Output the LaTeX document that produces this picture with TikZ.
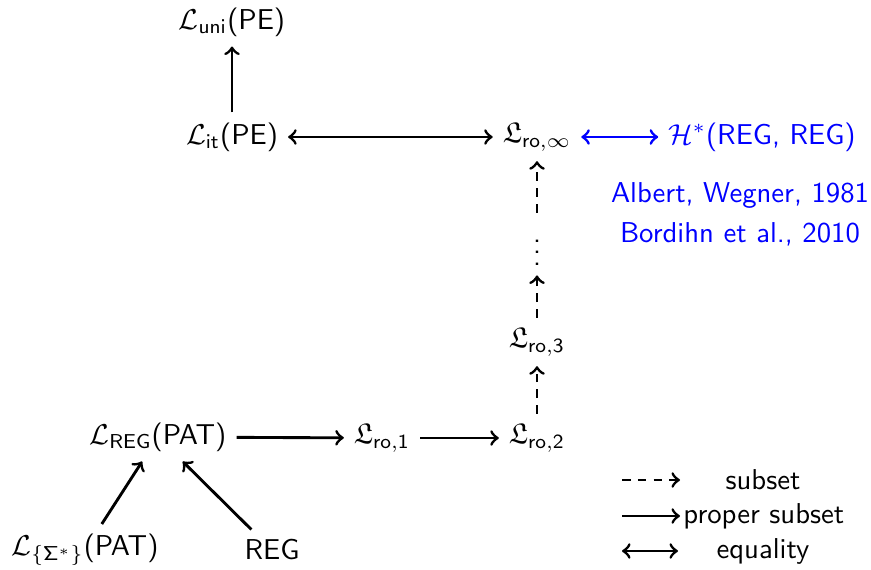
\documentclass[tikz,border=0pt]{standalone}
\usepackage{amssymb}

\begin{document}
\begin{tikzpicture}[x=0.01223cm,y=-0.01223cm,font=\sffamily,
  subs/.style={->,line width=1pt,dash pattern=on 3pt off 2.5pt},
  psubs/.style={->,line width=1pt},
  equal/.style={<->,line width=1pt}]
\useasboundingbox (0,0) rectangle (871,569);

% Languages
\node (luni) at (232,22) {$\mathcal{L}_{\mathsf{uni}}$(PE)};
\node (lit) at (232,137) {$\mathcal{L}_{\mathsf{it}}$(PE)};
\node (roinf) at (537,137) {$\mathfrak{L}_{\mathsf{ro,}\infty}$};
\node[blue] (hreg) at (762,137) {$\mathcal{H}^*$(REG, REG)};
\node (vd) at (537,244) {$\vdots$};
\node (ro3) at (537,342) {$\mathfrak{L}_{\mathsf{ro,3}}$};
\node (lreg) at (158,437) {$\mathcal{L}_{\mathsf{REG}}$(PAT)};
\node (ro1) at (382,438) {$\mathfrak{L}_{\mathsf{ro,1}}$};
\node (ro2) at (537,438) {$\mathfrak{L}_{\mathsf{ro,2}}$};
\node (lsig) at (85,550) {$\mathcal{L}_{\{\mathsf{\Sigma}^*\}}$(PAT)};
\node (reg) at (272,550) {REG};

% References
\node[blue] (ref1) at (740,195) {Albert, Wegner, 1981};
\node[blue] (ref2) at (740,234) {Bordihn et al., 2010};

% Relations
\draw[psubs] (lit) -- (luni);
\draw[equal] (lit) -- (roinf);
\draw[equal,blue] (roinf) -- (hreg);
\draw[subs] (ro2) -- (ro3);
\draw[subs] (ro3) -- (vd);
\draw[subs] (vd) -- (roinf);
\draw[psubs] (lreg) -- (ro1);
\draw[psubs] (ro1) -- (ro2);
\draw[psubs] (lsig) -- (lreg);
\draw[psubs] (reg) -- (lreg);

% Legend
\coordinate (a1) at (622,480);
\coordinate (b1) at (680,480);
\coordinate (a2) at (622,516);
\coordinate (b2) at (680,516);
\coordinate (a3) at (622,551);
\coordinate (b3) at (678,551);
\draw[subs] (a1) -- (b1);
\draw[psubs] (a2) -- (b2);
\draw[equal] (a3) -- (b3);
\node (t1) at (763,480) {subset};
\node[anchor=west,inner sep=1pt] (t2) at (b2) {proper subset};
\node (t3) at (763,551) {equality};

\end{tikzpicture}
\end{document}
